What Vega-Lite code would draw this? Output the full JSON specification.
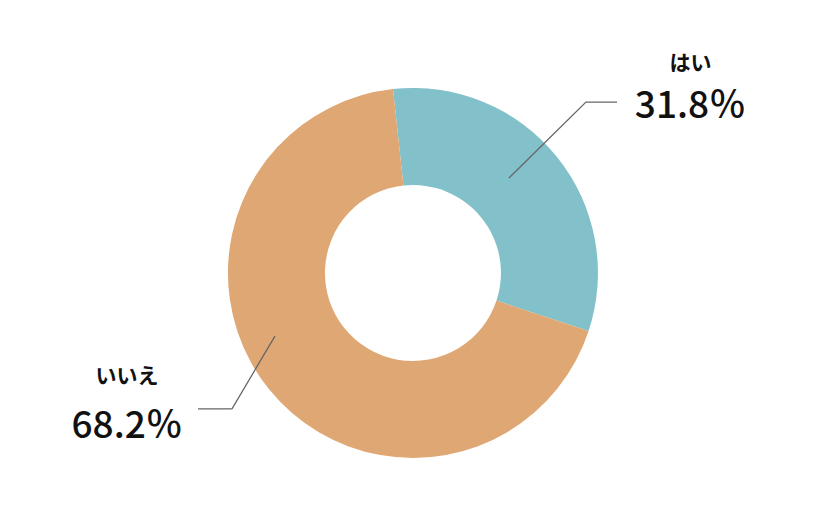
{
  "$schema": "https://vega.github.io/schema/vega-lite/v6.json",
  "width": 822,
  "height": 509,
  "autosize": {"type": "fit", "contains": "padding"},
  "padding": 0,
  "background": "#ffffff",
  "config": {"view": {"stroke": null}, "font": "Noto Sans CJK JP"},
  "datasets": {
    "slices": [
      {"answer": "はい", "value": 31.8},
      {"answer": "いいえ", "value": 68.2}
    ],
    "leaders": [
      {"answer": "はい", "step": 1, "u": 0.519, "v": 0.514},
      {"answer": "はい", "step": 2, "u": 0.935, "v": 0.924},
      {"answer": "はい", "step": 3, "u": 1.103, "v": 0.924},
      {"answer": "いいえ", "step": 1, "u": -0.746, "v": -0.341},
      {"answer": "いいえ", "step": 2, "u": -0.978, "v": -0.735},
      {"answer": "いいえ", "step": 3, "u": -1.162, "v": -0.735}
    ],
    "labels": [
      {"answer": "はい", "pct": "31.8％", "u": 1.5, "vName": 1.13, "vPct": 0.838},
      {"answer": "いいえ", "pct": "68.2％", "u": -1.545, "vName": -0.565, "vPct": -0.892}
    ]
  },
  "layer": [
    {
      "data": {"name": "slices"},
      "mark": {"type": "arc", "outerRadius": 185, "innerRadius": 88},
      "encoding": {
        "x": {"datum": 0, "type": "quantitative", "scale": {"domain": [-2.232, 2.211], "nice": false, "zero": false}, "axis": null},
        "y": {"datum": 0, "type": "quantitative", "scale": {"domain": [-1.276, 1.476], "nice": false, "zero": false}, "axis": null},
        "theta": {"field": "value", "type": "quantitative", "stack": true, "scale": {"range": [-0.1082, 6.175]}},
        "order": {"field": "value", "sort": "ascending"},
        "color": {"field": "answer", "type": "nominal", "scale": {"domain": ["はい", "いいえ"], "range": ["#83C1CA", "#DFA773"]}, "legend": null}
      }
    },
    {
      "data": {"name": "leaders"},
      "mark": {"type": "line", "color": "#666666", "strokeWidth": 1.3},
      "encoding": {
        "x": {"field": "u", "type": "quantitative"},
        "y": {"field": "v", "type": "quantitative"},
        "detail": {"field": "answer"},
        "order": {"field": "step"}
      }
    },
    {
      "data": {"name": "labels"},
      "mark": {"type": "text", "fontSize": 21, "fontWeight": "bold", "color": "#111111", "align": "center", "baseline": "middle"},
      "encoding": {
        "x": {"field": "u", "type": "quantitative"},
        "y": {"field": "vName", "type": "quantitative"},
        "text": {"field": "answer"}
      }
    },
    {
      "data": {"name": "labels"},
      "mark": {"type": "text", "fontSize": 37, "fontWeight": 500, "color": "#111111", "align": "center", "baseline": "alphabetic"},
      "encoding": {
        "x": {"field": "u", "type": "quantitative"},
        "y": {"field": "vPct", "type": "quantitative"},
        "text": {"field": "pct"}
      }
    }
  ]
}
